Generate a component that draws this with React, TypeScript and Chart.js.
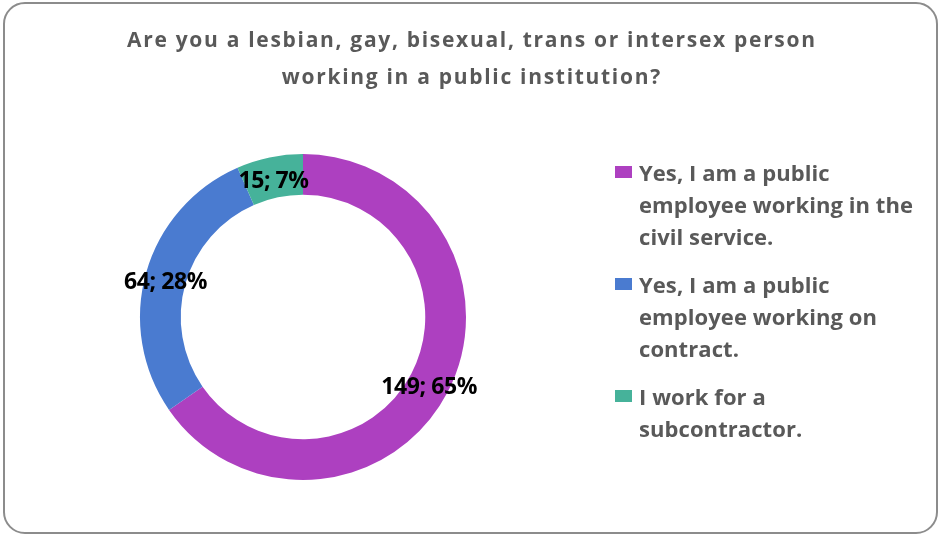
import React, { useEffect, useRef } from "react";
import { Chart, registerables } from "chart.js";

Chart.register(...registerables);

const categories: string[][] = [
  ["Yes, I am a public", "employee working in the", "civil service."],
  ["Yes, I am a public", "employee working on", "contract."],
  ["I work for a", "subcontractor."],
];
const values: number[] = [149, 64, 15];
const percents: number[] = [65, 28, 7];
const colors: string[] = ["#AD40C0", "#4A7BD0", "#46B29A"];
const titleLines: string[] = [
  "Are you a lesbian, gay, bisexual, trans or intersex person",
  "working in a public institution?",
];

const FONT = "'Open Sans', Lato, 'Liberation Sans', sans-serif";

function fitSpacing(ctx: any, text: string, target: number): number {
  ctx.letterSpacing = "0px";
  const w = ctx.measureText(text).width;
  return (target - w) / Math.max(1, text.length - 1);
}

const overlayPlugin = {
  id: "overlay",
  afterDraw(chart: any) {
    const ctx = chart.ctx as any;
    ctx.save();
    ctx.textBaseline = "alphabetic";
    ctx.textAlign = "left";

    // title
    ctx.fillStyle = "#595959";
    ctx.font = `bold 21px ${FONT}`;
    const ts = fitSpacing(ctx, titleLines[0], 688);
    ctx.letterSpacing = `${ts}px`;
    const w0 = ctx.measureText(titleLines[0]).width - ts;
    ctx.fillText(titleLines[0], 471 - w0 / 2, 47);
    const w1 = ctx.measureText(titleLines[1]).width - ts;
    ctx.fillText(titleLines[1], 471 - w1 / 2, 84);

    // data labels
    const meta = chart.getDatasetMeta(0);
    ctx.fillStyle = "#000000";
    ctx.font = `bold 23px ${FONT}`;
    const ls = fitSpacing(ctx, "149; 65%", 96);
    ctx.letterSpacing = `${ls}px`;
    meta.data.forEach((arc: any, i: number) => {
      const p = arc.tooltipPosition();
      const t = `${values[i]}; ${percents[i]}%`;
      const w = ctx.measureText(t).width - ls;
      ctx.fillText(t, p.x - w / 2, p.y + 11);
    });

    // legend
    ctx.font = `bold 22px ${FONT}`;
    const gs = fitSpacing(ctx, "employee working in the", 274);
    ctx.letterSpacing = `${gs}px`;
    const baselines = [181, 293, 405];
    categories.forEach((lines, i) => {
      const b = baselines[i];
      ctx.fillStyle = colors[i];
      ctx.fillRect(615, b - 15, 17, 12);
      ctx.fillStyle = "#595959";
      lines.forEach((ln, j) => {
        ctx.fillText(ln, 639, b + j * 32);
      });
    });
    ctx.restore();
  },
};

export default function App() {
  const ref = useRef<HTMLCanvasElement | null>(null);
  useEffect(() => {
    if (!ref.current) return;
    const chart = new Chart(ref.current, {
      type: "doughnut",
      data: {
        labels: categories.map((c) => c.join(" ")),
        datasets: [
          {
            data: values,
            backgroundColor: colors,
            borderWidth: 0,
          },
        ],
      },
      options: {
        responsive: false,
        animation: false,
        cutout: "75%",
        rotation: 0,
        layout: {
          padding: { left: 140, right: 475, top: 154, bottom: 57 },
        },
        plugins: {
          legend: { display: false },
          title: { display: false },
          tooltip: { enabled: false },
        },
      },
      plugins: [overlayPlugin],
    });
    return () => chart.destroy();
  }, []);

  return (
    <div
      style={{
        position: "absolute",
        left: 0,
        top: 0,
        width: 941,
        height: 537,
        background: "#ffffff",
      }}
    >
      <div
        style={{
          position: "absolute",
          left: 3,
          top: 2,
          width: 931,
          height: 528,
          border: "2px solid #8c8c8c",
          borderRadius: 22,
          pointerEvents: "none",
        }}
      />
      <canvas ref={ref} width={941} height={537} style={{ position: "absolute", left: 0, top: 0 }} />
    </div>
  );
}
